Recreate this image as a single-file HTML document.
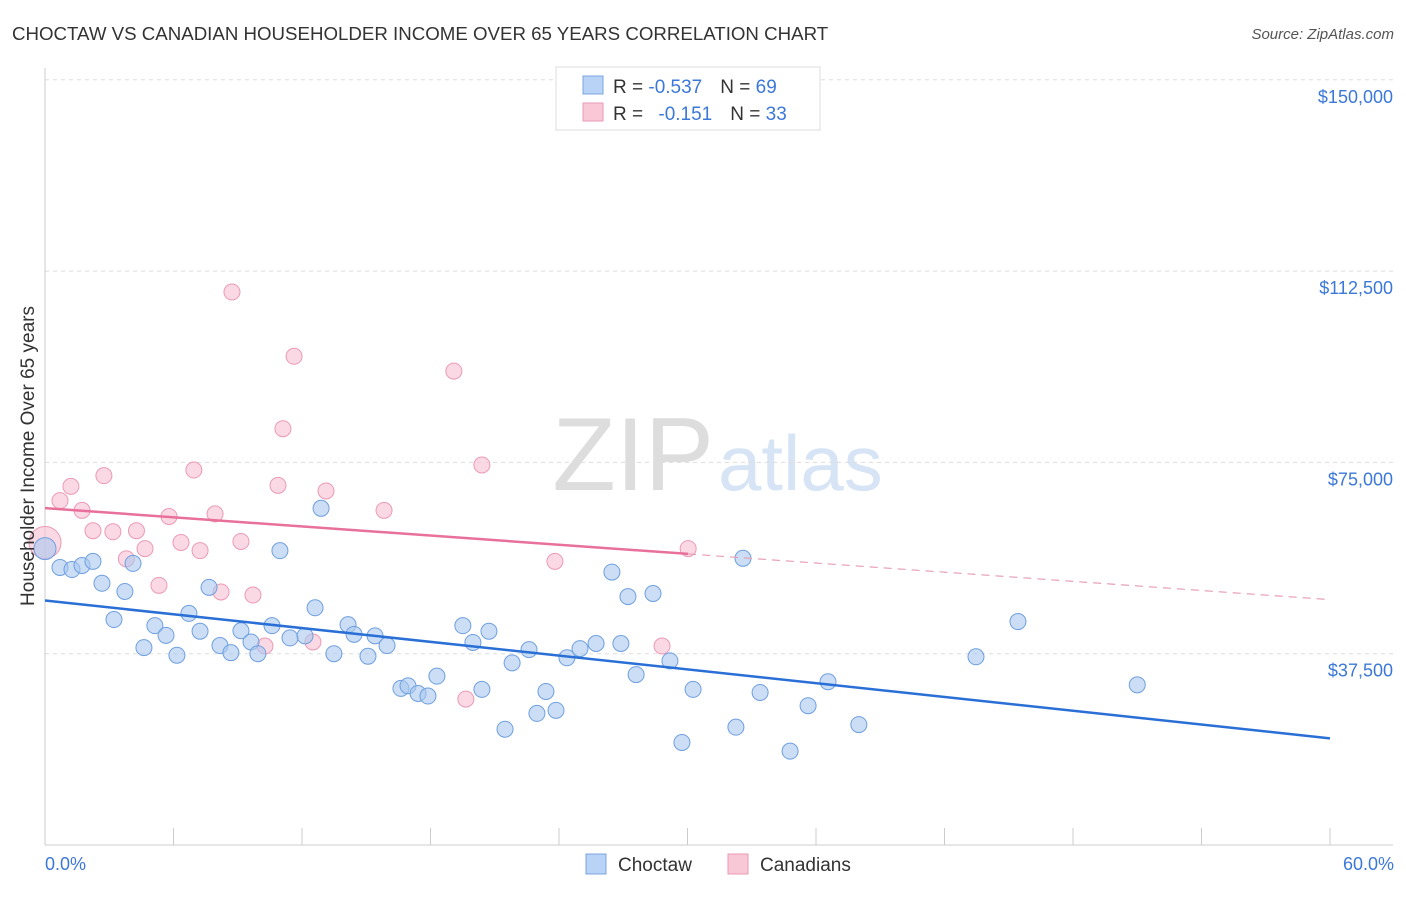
<!DOCTYPE html>
<html><head><meta charset="utf-8"><style>
body{margin:0;background:#fff;font-family:"Liberation Sans",sans-serif}
svg text{font-family:"Liberation Sans",sans-serif}
</style></head><body>
<svg id="chart" width="1406" height="892" xmlns="http://www.w3.org/2000/svg">
<text x="12" y="40" font-size="18.7" fill="#333">CHOCTAW VS CANADIAN HOUSEHOLDER INCOME OVER 65 YEARS CORRELATION CHART</text>
<text x="1394" y="39" font-size="15" fill="#555" font-style="italic" text-anchor="end">Source: ZipAtlas.com</text>
<text x="714" y="490" font-size="104" fill="#ddd" font-family="Liberation Serif" text-anchor="end">ZIP</text>
<text x="718" y="490" font-size="78" fill="#d6e4f5">atlas</text>
<g id="grid"></g>
<g id="axes"></g>
<g id="marks"></g>
<text transform="translate(34,456) rotate(-90)" font-size="19" fill="#333" text-anchor="middle">Householder Income Over 65 years</text>
<text x="45" y="870" font-size="18" fill="#3c78d8">0.0%</text>
<text x="1394" y="870" font-size="18" fill="#3c78d8" text-anchor="end">60.0%</text>
<g>
<rect x="556" y="67" width="264" height="63" fill="#fff" stroke="#ddd"/>
<rect x="583" y="76" width="20" height="18" fill="#b8d3f5" stroke="#7aa6e0"/>
<rect x="583" y="103" width="20" height="18" fill="#f9c8d6" stroke="#eb9ab4"/>
<text x="613" y="93" font-size="19" fill="#333">R = <tspan fill="#3c78d8">-0.537</tspan><tspan dx="18">N = </tspan><tspan fill="#3c78d8">69</tspan></text>
<text x="613" y="120" font-size="19" fill="#333">R = <tspan dx="10" fill="#3c78d8">-0.151</tspan><tspan dx="18">N = </tspan><tspan fill="#3c78d8">33</tspan></text>
</g>
<g>
<rect x="586" y="854" width="20" height="20" fill="#b8d3f5" stroke="#7aa6e0"/>
<text x="618" y="871" font-size="19" fill="#333">Choctaw</text>
<rect x="728" y="854" width="20" height="20" fill="#f9c8d6" stroke="#eb9ab4"/>
<text x="760" y="871" font-size="19" fill="#333">Canadians</text>
</g>
</svg>
<script>
const yTicks=[37500,75000,112500,150000];
const yTickLabels=["$37,500","$75,000","$112,500","$150,000"];
const xTicks=[0,6,12,18,24,30,36,42,48,54,60];
const blueX=[0,0.7,1.26,1.73,2.24,2.66,3.22,3.73,4.11,4.62,5.13,5.65,6.16,6.72,7.24,7.66,8.17,8.68,9.15,9.62,9.94,10.6,10.97,11.44,12.14,12.61,12.89,13.49,14.15,14.43,15.08,15.41,15.97,16.62,16.95,17.42,17.88,18.3,19.51,19.98,20.4,20.73,21.48,21.81,22.6,22.97,23.39,23.86,24.37,24.98,25.73,26.47,26.89,27.22,27.6,28.39,29.18,29.74,30.26,32.26,32.59,33.39,34.79,35.63,36.56,38.0,43.47,45.43,51.0];
const blueY=[58100,54400,54000,54800,55600,51300,44200,49700,55200,38700,43000,41100,37200,45400,41900,50500,39100,37700,42000,39800,37500,43000,57700,40600,41000,46500,66000,37500,43200,41300,37000,41000,39100,30700,31200,29700,29200,33100,43000,39700,30500,41900,22700,35700,38300,25800,30100,26400,36700,38500,39500,53500,39500,48700,33400,49300,36100,20100,30500,23100,56200,29900,18400,27300,32000,23600,36900,43800,31400];
const pinkX=[0,0.7,1.21,1.73,2.24,2.75,3.17,3.8,4.27,4.67,5.32,5.79,6.35,6.95,7.24,7.94,8.22,8.73,9.15,9.71,10.27,10.88,11.11,11.63,12.51,13.12,15.83,19.09,19.65,20.4,23.81,28.81,30.03];
const pinkY=[59300,67500,70300,65600,61600,72400,61400,56100,61600,58100,50900,64400,59300,73500,57700,64900,49600,108400,59500,49000,39000,70500,81600,95800,39800,69400,65600,92900,28600,74500,55600,39000,58100];
const X=v=>45+v/60*1285, Y=v=>845-v/37500*191.3;
const NS="http://www.w3.org/2000/svg";
function mk(t,a,p){const e=document.createElementNS(NS,t);for(const k in a)e.setAttribute(k,a[k]);p.appendChild(e);return e;}
const grid=document.getElementById('grid'),axes=document.getElementById('axes'),marks=document.getElementById('marks');
yTicks.forEach((v,i)=>{const l=mk('line',{x1:45,x2:1393,y1:Y(v),y2:Y(v),stroke:'#ddd','stroke-dasharray':'4 4'},grid);


const t=mk('text',{x:1393,y:Y(v)+23,'font-size':18,fill:'#3c78d8','text-anchor':'end'},axes);t.textContent=yTickLabels[i];

});
const al=mk('line',{x1:45,x2:45,y1:68,y2:845,stroke:'#ccc'},axes);


const bl=mk('line',{x1:45,x2:1393,y1:845,y2:845,stroke:'#ccc'},axes);


xTicks.forEach(v=>{const t=mk('line',{x1:X(v),x2:X(v),y1:828,y2:845,stroke:'#ccc'},axes);

});
function dots(xs,ys,fill,stroke,name){xs.forEach((x,i)=>{const c=mk('circle',{cx:X(x),cy:Y(ys[i]),r:i==0?(name=='pink-point'?16:11):8,fill:fill,'fill-opacity':0.6,stroke:stroke,'stroke-width':1},marks);

});}
dots(pinkX,pinkY,'#f9c0d2','#eb9ab4','pink-point');
dots(blueX,blueY,'#a9c8f0','#6f9fdf','blue-point');
function fit(xs,ys){const n=Math.min(xs.length,ys.length),mx=xs.slice(0,n).reduce((a,b)=>a+b)/n,my=ys.slice(0,n).reduce((a,b)=>a+b)/n;let sxy=0,sxx=0;for(let i=0;i<n;i++){sxy+=(xs[i]-mx)*(ys[i]-my);sxx+=(xs[i]-mx)**2}const b=sxy/sxx;return [my-b*mx,b];}
const [ba,bb]=fit(blueX,blueY);
const bt=mk('line',{x1:X(0),y1:Y(ba),x2:X(60),y2:Y(ba+bb*60),stroke:'#2a6fd6','stroke-width':2.5},marks);


const [pa,pb]=fit(pinkX,pinkY);const pmax=Math.max(...pinkX);
const pt=mk('line',{x1:X(0),y1:Y(pa),x2:X(pmax),y2:Y(pa+pb*pmax),stroke:'#e8709a','stroke-width':2.5},marks);


const pd=mk('line',{x1:X(pmax),y1:Y(pa+pb*pmax),x2:X(60),y2:Y(pa+pb*60),stroke:'#e8a0b8','stroke-width':1.2,'stroke-dasharray':'8 6'},marks);


</script>
</body></html>
